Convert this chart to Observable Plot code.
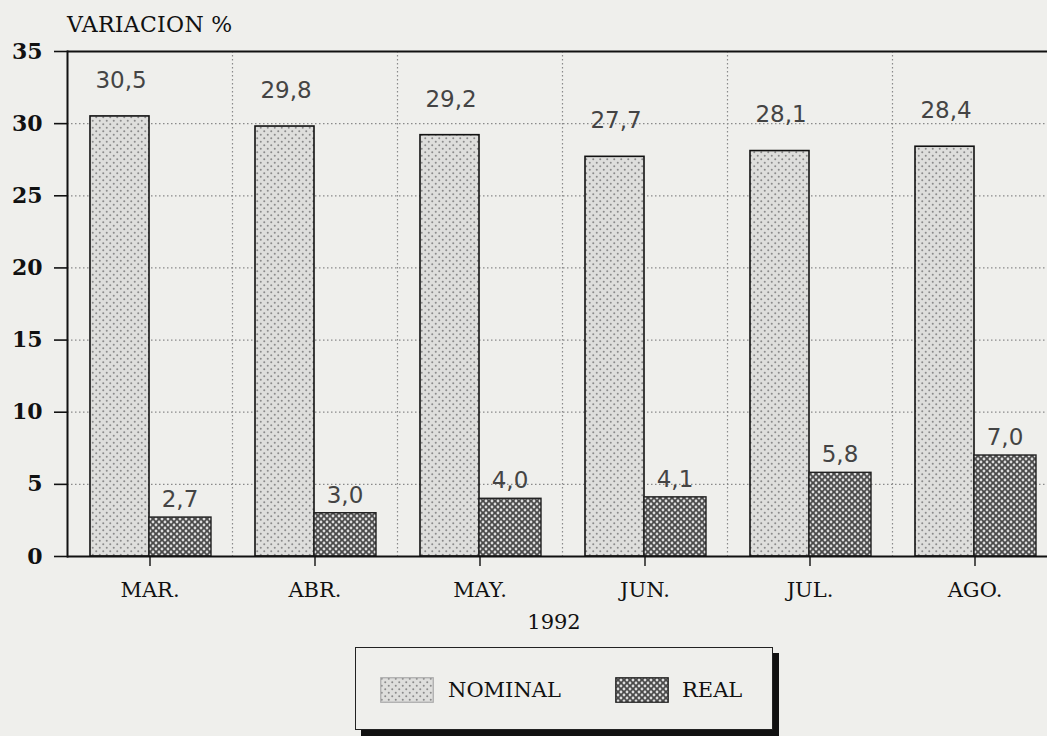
<!DOCTYPE html>
<html>
<head>
<meta charset="utf-8">
<script src="https://cdn.jsdelivr.net/npm/d3@7"></script>
<script src="https://cdn.jsdelivr.net/npm/@observablehq/plot@0.6"></script>
<style>
  html, body { margin: 0; padding: 0; background: #efefec; }
  #wrap { position: relative; width: 1047px; height: 736px; overflow: hidden; font-family: "DejaVu Serif", serif; color: #111; }
  #title { position: absolute; left: 67px; top: 12px; font-size: 22px; letter-spacing: 0.3px; }
  #year { position: absolute; left: 554px; top: 610px; transform: translateX(-50%); font-size: 21px; }
  #legend { position: absolute; left: 355px; top: 647px; width: 416px; height: 81px; border: 1.5px solid #222; background: #efefec; box-shadow: 6px 6px 0 #111; }
  .sw { position: absolute; top: 29px; }
  .lt { position: absolute; top: 29px; font-size: 21px; line-height: 26px; }
</style>
</head>
<body>
<div id="wrap">
  <div id="chart"></div>
  <div id="title">VARIACION %</div>
  <div id="year">1992</div>
  <div id="legend"></div>
</div>
<script>
const months = ["MAR.", "ABR.", "MAY.", "JUN.", "JUL.", "AGO."];
const nominal = [30.5, 29.8, 29.2, 27.7, 28.1, 28.4];
const real = [2.7, 3.0, 4.0, 4.1, 5.8, 7.0];
const series = ["NOMINAL", "REAL"];
const yTicks = [0, 5, 10, 15, 20, 25, 30, 35];
const gridValues = [5, 10, 15, 20, 25, 30];

const nomData = months.map((m, i) => ({month: m, value: nominal[i], series: series[0]}));
const realData = months.map((m, i) => ({month: m, value: real[i], series: series[1]}));
const fmt = v => v.toFixed(1).replace(".", ",");

const xRange = [67, 1057];
const halfBand = (xRange[1] - xRange[0]) / months.length / 2;

const chart = Plot.plot({
  width: 1047,
  height: 736,
  marginTop: 51,
  marginBottom: 180,
  marginLeft: 67,
  marginRight: 0,
  style: {background: "transparent", fontFamily: "DejaVu Serif", color: "#111"},
  x: {domain: months, range: xRange, padding: 0, axis: null},
  y: {domain: [0, 35], axis: null},
  marks: [
    Plot.ruleY(gridValues, {stroke: "#8a8a8a", strokeWidth: 1.2, strokeDasharray: "1.5,2.5"}),
    Plot.ruleX(months.slice(1), {x: d => d, dx: -halfBand, stroke: "#8a8a8a", strokeWidth: 1.2, strokeDasharray: "1.5,2.5"}),
    Plot.barY(nomData, {x: "month", y: "value", fill: "url(#patNominal)", stroke: "#111", strokeWidth: 1.6, insetLeft: 23, insetRight: 83}),
    Plot.barY(realData, {x: "month", y: "value", fill: "url(#patReal)", stroke: "#222", strokeWidth: 1.4, insetLeft: 82, insetRight: 21}),
    Plot.text(nomData, {x: "month", y: "value", text: d => fmt(d.value), dx: -29, dy: -36, fontFamily: "DejaVu Sans", fontSize: 23, fill: "#444", letterSpacing: 0.5}),
    Plot.text(realData, {x: "month", y: "value", text: d => fmt(d.value), dx: 30, dy: -18, fontFamily: "DejaVu Sans", fontSize: 23, fill: "#444", letterSpacing: 0.5}),
    Plot.ruleY([0, 35], {stroke: "#111", strokeWidth: 2}),
    Plot.frame({anchor: "left", stroke: "#111", strokeWidth: 2}),
    Plot.axisY({ticks: yTicks, tickSize: 13, tickPadding: 12, fontSize: 22, fontWeight: "bold", fill: "#111", stroke: "#111", strokeWidth: 1.6, label: null, tickFormat: d => String(d)}),
    Plot.axisX({tickSize: 10, tickPadding: 16, fontSize: 21, fill: "#111", stroke: "#111", strokeWidth: 1.4, label: null})
  ]
});

// Patterns for the bars
const defs = d3.select(chart).insert("defs", ":first-child");
const pn = defs.append("pattern").attr("id", "patNominal").attr("patternUnits", "userSpaceOnUse").attr("width", 7).attr("height", 7);
pn.append("rect").attr("width", 7).attr("height", 7).attr("fill", "#dededc");
pn.append("circle").attr("cx", 1.75).attr("cy", 1.75).attr("r", 1).attr("fill", "#8a8a8a");
pn.append("circle").attr("cx", 5.25).attr("cy", 5.25).attr("r", 1).attr("fill", "#8a8a8a");
const pr = defs.append("pattern").attr("id", "patReal").attr("patternUnits", "userSpaceOnUse").attr("width", 6).attr("height", 6);
pr.append("rect").attr("width", 6).attr("height", 6).attr("fill", "#4a4a4a");
pr.append("circle").attr("cx", 3).attr("cy", 0).attr("r", 1.4).attr("fill", "#dcdcdc");
pr.append("circle").attr("cx", 0).attr("cy", 3).attr("r", 1.4).attr("fill", "#dcdcdc");
pr.append("circle").attr("cx", 6).attr("cy", 3).attr("r", 1.4).attr("fill", "#dcdcdc");
pr.append("circle").attr("cx", 3).attr("cy", 6).attr("r", 1.4).attr("fill", "#dcdcdc");

document.getElementById("chart").appendChild(chart);

// Legend
const legend = d3.select("#legend");
const items = [
  {name: series[0], pat: "patNominal", stroke: "#aaa", sx: 24, tx: 92},
  {name: series[1], pat: "patReal", stroke: "#222", sx: 259, tx: 326}
];
items.forEach(it => {
  const s = legend.append("svg").attr("class", "sw").attr("width", 54).attr("height", 26).style("left", it.sx + "px");
  s.append("rect").attr("x", 0.75).attr("y", 0.75).attr("width", 52.5).attr("height", 24.5).attr("fill", `url(#${it.pat})`).attr("stroke", it.stroke).attr("stroke-width", 1.2);
  legend.append("div").attr("class", "lt").style("left", it.tx + "px").text(it.name);
});
</script>
</body>
</html>
